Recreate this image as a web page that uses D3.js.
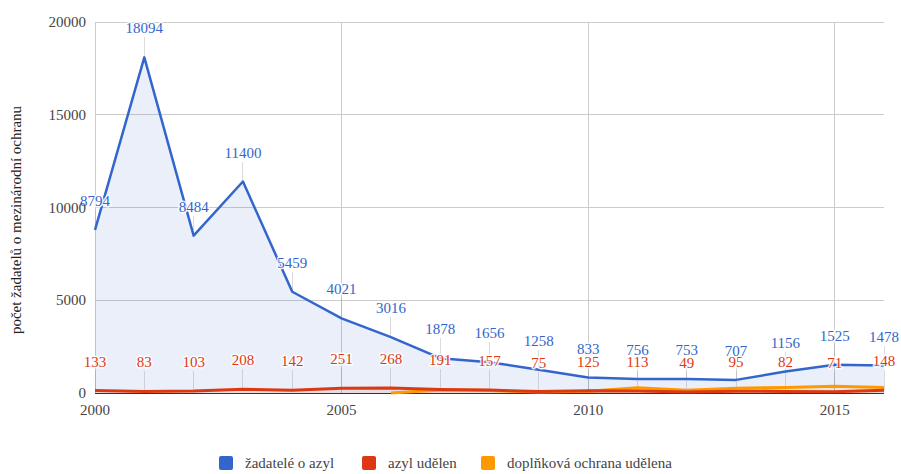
<!DOCTYPE html>
<html><head><meta charset="utf-8">
<script src="https://cdn.jsdelivr.net/npm/d3@7"></script>
<style>body{margin:0;background:#fff}svg{display:block}</style>
</head><body>
<svg id="c" width="901" height="474" font-family="'Liberation Serif', 'Times New Roman', 'DejaVu Serif', serif"></svg>
<script>
const years = [2000,2001,2002,2003,2004,2005,2006,2007,2008,2009,2010,2011,2012,2013,2014,2015,2016];
const zadatele = [8794,18094,8484,11400,5459,4021,3016,1878,1656,1258,833,756,753,707,1156,1525,1478];
const azyl = [133,83,103,208,142,251,268,191,157,75,125,113,49,95,82,71,148];
const doplnkovaYears = [2006,2007,2008,2009,2010,2011,2012,2013,2014,2015,2016];
const doplnkova = [0,160,130,60,100,280,150,250,300,360,300];
const yTicks = [0,5000,10000,15000,20000];
const xTicks = [2000,2005,2010,2015];
const seriesNames = ["žadatelé o azyl","azyl udělen","doplňková ochrana udělena"];
const colors = ["#3366cc","#dc3912","#ff9900"];
const yTitle = "počet žadatelů o mezinárodní ochranu";
const FONT = "'Liberation Serif', 'Times New Roman', 'DejaVu Serif', serif";

const svg = d3.select("#c");
const x = d3.scaleLinear().domain([2000,2016]).range([95,884]);
const y = d3.scaleLinear().domain([0,20000]).range([393,22]);

svg.append("g").selectAll("line").data(yTicks.filter(d=>d>0)).join("line")
  .attr("x1",x(2000)).attr("x2",x(2016)).attr("y1",d=>y(d)).attr("y2",d=>y(d))
  .attr("stroke","#cccccc").attr("stroke-width",1).attr("shape-rendering","crispEdges");
svg.append("g").selectAll("line").data(xTicks).join("line")
  .attr("x1",d=>x(d)).attr("x2",d=>x(d)).attr("y1",y(20000)).attr("y2",y(0))
  .attr("stroke","#cccccc").attr("stroke-width",1).attr("shape-rendering","crispEdges");

const s1 = years.map((d,i)=>({x:d,v:zadatele[i]}));
const s2 = years.map((d,i)=>({x:d,v:azyl[i]}));
const s3 = doplnkovaYears.map((d,i)=>({x:d,v:doplnkova[i]}));

const area = d3.area().x(d=>x(d.x)).y0(y(0)).y1(d=>y(d.v));
const line = d3.line().x(d=>x(d.x)).y(d=>y(d.v));

[s1,s2,s3].forEach((s,i)=>{
  svg.append("path").datum(s).attr("d",area).attr("fill",colors[i]).attr("fill-opacity",0.1);
});

const stemG = svg.append("g");
function stems(s){
  stemG.selectAll(null).data(s).join("line")
    .attr("x1",d=>x(d.x)).attr("x2",d=>x(d.x))
    .attr("y1",d=>y(d.v)).attr("y2",d=>y(d.v)-20)
    .attr("stroke","#999").attr("stroke-opacity",0.35).attr("stroke-width",1).attr("shape-rendering","crispEdges");
}
stems(s1); stems(s2);

svg.append("line").attr("x1",x(2000)).attr("x2",x(2016)).attr("y1",y(0)+0.5).attr("y2",y(0)+0.5)
  .attr("stroke","#333").attr("stroke-width",1);

[s3,s2,s1].forEach((s,k)=>{
  const i = 2-k;
  svg.append("path").datum(s).attr("d",line).attr("fill","none")
    .attr("stroke",colors[i]).attr("stroke-width",i===0?2.5:3).attr("stroke-linejoin","round");
});

function labels(s,col){
  svg.append("g").selectAll(null).data(s).join("text")
    .attr("x",d=>x(d.x)).attr("y",d=>y(d.v)-24)
    .attr("text-anchor","middle").attr("font-size",15).attr("font-family",FONT)
    .attr("stroke","#fff").attr("stroke-width",3).attr("stroke-linejoin","round").attr("stroke-opacity",0.85)
    .attr("paint-order","stroke").attr("fill",col).text(d=>d.v);
}
labels(s2,colors[1]);
labels(s1,colors[0]);

svg.append("g").selectAll("text").data(yTicks).join("text")
  .attr("x",86).attr("y",d=>y(d)+5).attr("text-anchor","end").attr("font-size",15).attr("font-family",FONT).attr("fill","#444")
  .text(d=>d);
svg.append("g").selectAll("text").data(xTicks).join("text")
  .attr("x",d=>x(d)).attr("y",415).attr("text-anchor","middle").attr("font-size",15).attr("font-family",FONT).attr("fill","#444")
  .text(d=>d);

svg.append("text").attr("transform","translate(21,220) rotate(-90)").attr("text-anchor","middle")
  .attr("font-size",15).attr("font-family",FONT).attr("fill","#222").text(yTitle);

const lg = svg.append("g");
const legendX = [219, 362, 481];
seriesNames.forEach((n,i)=>{
  lg.append("rect").attr("x",legendX[i]).attr("y",456).attr("width",14).attr("height",14).attr("rx",2).attr("fill",colors[i]);
  lg.append("text").attr("x",legendX[i]+26).attr("y",468).attr("font-size",15).attr("font-family",FONT).attr("fill","#444").text(n);
});
</script>
</body></html>
